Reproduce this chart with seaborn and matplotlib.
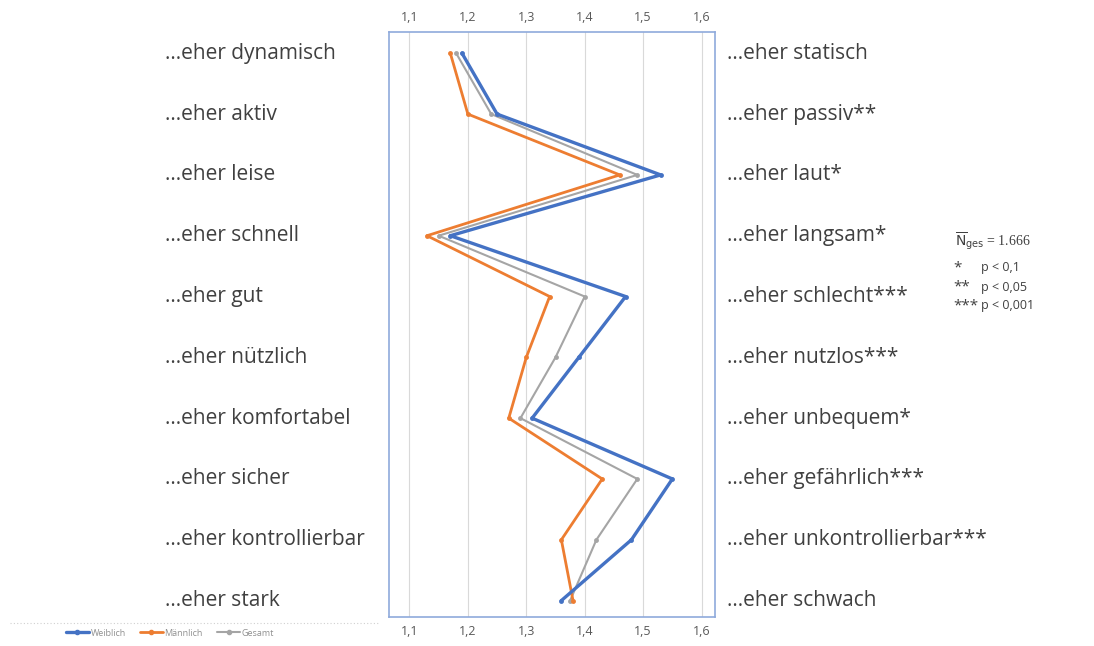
import numpy as np
import pandas as pd
import matplotlib as mpl
mpl.use('Agg')
import matplotlib.pyplot as plt
from matplotlib.transforms import blended_transform_factory
from matplotlib.lines import Line2D
import seaborn as sns

# Daten
links = ["...eher dynamisch", "...eher aktiv", "...eher leise", "...eher schnell",
         "...eher gut", "...eher nützlich", "...eher komfortabel", "...eher sicher",
         "...eher kontrollierbar", "...eher stark"]
rechts = ["...eher statisch", "...eher passiv**", "...eher laut*", "...eher langsam*",
          "...eher schlecht***", "...eher nutzlos***", "...eher unbequem*",
          "...eher gefährlich***", "...eher unkontrollierbar***", "...eher schwach"]
weiblich = [1.19, 1.25, 1.53, 1.17, 1.47, 1.39, 1.31, 1.55, 1.48, 1.36]
maennlich = [1.17, 1.20, 1.46, 1.13, 1.34, 1.30, 1.27, 1.43, 1.36, 1.38]
gesamt = [1.18, 1.24, 1.49, 1.15, 1.40, 1.35, 1.29, 1.49, 1.42, 1.375]
x_ticks = [1.1, 1.2, 1.3, 1.4, 1.5, 1.6]
x_ticklabels = ["1,1", "1,2", "1,3", "1,4", "1,5", "1,6"]

farben = {"Weiblich": "#4472C4", "Männlich": "#ED7D31", "Gesamt": "#A5A5A5"}
breiten = {"Weiblich": 2.4, "Männlich": 2.0, "Gesamt": 1.5}

df = pd.concat([
    pd.DataFrame({"pos": range(len(links)), "wert": werte, "gruppe": name})
    for name, werte in [("Weiblich", weiblich), ("Männlich", maennlich), ("Gesamt", gesamt)]
])

sns.set_style("white")
plt.rcParams['font.family'] = ['Open Sans', 'DejaVu Sans']

fig = plt.figure(figsize=(10.94, 6.46), dpi=100)
ax = fig.add_axes([389 / 1094, 1 - 617 / 646, (715 - 389) / 1094, (617 - 32) / 646])

for name in ["Gesamt", "Männlich", "Weiblich"]:
    sub = df[df["gruppe"] == name]
    sns.lineplot(data=sub, x="wert", y="pos", orient="y", sort=False, ax=ax,
                 color=farben[name], lw=breiten[name], marker="o", markersize=3.5,
                 markeredgewidth=0, legend=False)

ax.set_xlim(1.065, 1.623)
ax.set_ylim(9.27, -0.35)
ax.set_xticks(x_ticks)
ax.set_xticklabels(x_ticklabels)
ax.tick_params(axis="x", top=True, labeltop=True, bottom=False, length=0,
               labelsize=9, labelcolor="#595959", pad=6)
ax.set_yticks([])
ax.set_xlabel("")
ax.set_ylabel("")
ax.grid(axis="x", color="#d9d9d9", lw=0.8)
for s in ax.spines.values():
    s.set_color("#8faadc")
    s.set_linewidth(1.2)

trans = blended_transform_factory(fig.transFigure, ax.transData)
for i, (l, r) in enumerate(zip(links, rechts)):
    ax.text(165 / 1094, i, l, transform=trans, ha="left", va="center",
            fontsize=15, color="#404040", clip_on=False)
    ax.text(727 / 1094, i, r, transform=trans, ha="left", va="center",
            fontsize=15, color="#404040", clip_on=False)

# Anmerkung rechts
fig.text(955 / 1094, 1 - 241 / 646, r"$\overline{\mathrm{N}}_{\mathrm{ges}}$ = 1.666",
         family="Liberation Serif", fontsize=10, color="#404040", va="center")
for j, (stern, txt) in enumerate([("*", "p < 0,1"), ("**", "p < 0,05"), ("***", "p < 0,001")]):
    y = 1 - (268 + j * 19) / 646
    fig.text(953 / 1094, y, stern, fontsize=11, color="#404040", va="center")
    fig.text(981 / 1094, y, txt, fontsize=9, color="#404040", va="center")

# Legende unten links
fig.add_artist(Line2D([10 / 1094, 380 / 1094], [1 - 623 / 646] * 2, transform=fig.transFigure,
                      color="#d0d0d0", lw=0.8, ls=(0, (1, 2))))
handles = [Line2D([], [], color=farben[n], lw=breiten[n], marker="o", markersize=3)
           for n in ["Weiblich", "Männlich", "Gesamt"]]
fig.legend(handles, ["Weiblich", "Männlich", "Gesamt"], loc="center",
           bbox_to_anchor=(170 / 1094, 1 - 633 / 646), ncol=3, frameon=False,
           fontsize=6.5, labelcolor="#909090", handlelength=2.5, handletextpad=0.2,
           columnspacing=1.6)

fig.savefig("out.png", dpi=100)
